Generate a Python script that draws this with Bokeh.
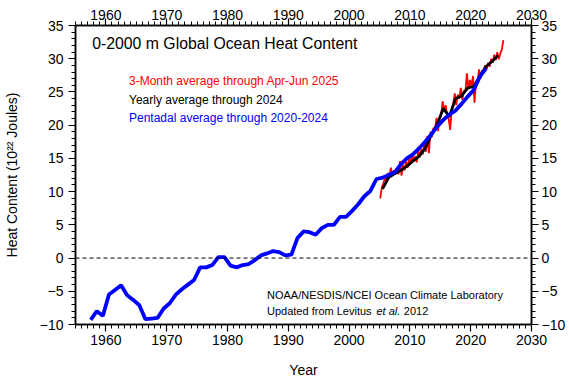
import numpy as np
from bokeh.plotting import figure
from bokeh.models import (Range1d, LinearAxis, SingleIntervalTicker, Span, Label)
from bokeh.embed import file_html
from bokeh.resources import INLINE

# ---------------- data ----------------
pentad_years = np.arange(1957.5, 2023.0, 1.0)
pentad_vals = [-9.3, -8.0, -8.7, -5.5, -4.8, -4.1, -5.6, -6.3, -7.1, -9.2,
               -9.1, -9.0, -7.6, -6.8, -5.5, -4.7, -4.0, -3.3, -1.4, -1.4,
               -1.05, 0.15, 0.15, -1.15, -1.4, -1.05, -0.9, -0.3, 0.4, 0.7,
               1.05, 0.9, 0.4, 0.5, 3.0, 4.0, 3.9, 3.5, 4.5, 5.0,
               5.0, 6.2, 6.2, 7.1, 8.1, 9.3, 10.1, 11.9, 12.1, 12.5,
               12.9, 14.1, 15.0, 15.6, 16.5, 17.5, 18.6, 19.8, 20.8, 21.6,
               22.2, 23.2, 24.3, 25.3, 27.3, 28.5]

yearly_years = np.arange(2005.5, 2025.0, 1.0)
yearly_vals = [10.4, 12.1, 12.7, 13.2, 13.8, 14.6, 15.3, 16.5, 18.5, 20.2,
               22.5, 21.3, 24.0, 24.4, 25.6, 25.8, 27.4, 28.8, 29.6, 30.5]

seasonal_years = np.arange(2005.125, 2025.5, 0.25)
seasonal_vals = [9.0, 10.6, 11.2, 12.0,
                 11.6, 12.8, 12.2, 13.6,
                 12.4, 13.2, 12.6, 13.4,
                 12.6, 14.6, 12.4, 14.0,
                 13.2, 14.5, 13.6, 15.0,
                 14.2, 15.6, 14.6, 15.3,
                 14.4, 16.2, 15.2, 16.4,
                 15.6, 17.2, 16.0, 18.3,
                 15.8, 19.0, 18.2, 19.6,
                 19.2, 21.1, 19.1, 21.0,
                 21.4, 23.6, 22.2, 23.0,
                 21.6, 21.0, 19.3, 22.4,
                 23.2, 24.8, 23.0, 24.6,
                 24.0, 25.6, 23.8, 25.2,
                 25.0, 27.8, 25.4, 26.8,
                 25.8, 27.4, 23.4, 26.6,
                 26.6, 28.4, 27.0, 28.2,
                 28.2, 29.0, 28.4, 29.4,
                 28.8, 30.0, 29.4, 30.6,
                 29.8, 31.0, 29.9, 30.8,
                 31.4, 32.8]
seasonal_years = seasonal_years[:len(seasonal_vals)]

title_text = "0-2000 m Global Ocean Heat Content"
legend_texts = ["3-Month average through Apr-Jun 2025",
                "Yearly average through 2024",
                "Pentadal average through 2020-2024"]
credit_line1 = "NOAA/NESDIS/NCEI Ocean Climate Laboratory"

FONT = "Liberation Sans"

p = figure(width=569, height=380, output_backend="svg", toolbar_location=None,
           x_range=Range1d(1955, 2030), y_range=Range1d(-10, 35),
           min_border_left=75, min_border_right=38, min_border_top=25,
           min_border_bottom=54)
p.xgrid.visible = False
p.ygrid.visible = False
p.outline_line_color = "black"
p.outline_line_width = 1.5
p.background_fill_color = "white"
p.border_fill_color = "white"

def style_axis(ax):
    ax.axis_line_color = "black"
    ax.axis_line_width = 1.5
    ax.major_tick_line_color = "black"
    ax.minor_tick_line_color = "black"
    ax.major_tick_line_width = 1.2
    ax.minor_tick_line_width = 1.0
    ax.major_tick_out = 7
    ax.major_tick_in = 0
    ax.minor_tick_out = 4
    ax.minor_tick_in = 0
    ax.major_label_text_font = FONT
    ax.major_label_text_font_size = "14px"
    ax.major_label_text_color = "black"
    ax.axis_label_text_font = FONT
    ax.axis_label_text_font_size = "14px"
    ax.axis_label_text_font_style = "normal"
    ax.axis_label_text_color = "black"

p.xaxis.ticker = SingleIntervalTicker(interval=10, num_minor_ticks=10)
p.yaxis.ticker = SingleIntervalTicker(interval=5, num_minor_ticks=5)
style_axis(p.xaxis[0])
style_axis(p.yaxis[0])
p.xaxis.axis_label = "Year"
p.xaxis.major_label_standoff = 3
p.xaxis.axis_label_standoff = 14
p.yaxis.axis_label = "Heat Content (10²² Joules)"
p.yaxis.major_label_standoff = 5
p.yaxis.axis_label_standoff = 17

top = LinearAxis(ticker=SingleIntervalTicker(interval=10, num_minor_ticks=10))
style_axis(top)
top.major_label_standoff = -1
p.add_layout(top, "above")

right = LinearAxis(ticker=SingleIntervalTicker(interval=5, num_minor_ticks=5))
style_axis(right)
right.major_label_standoff = 3
p.add_layout(right, "right")

p.add_layout(Span(location=0, dimension="width", line_color="black",
                  line_width=1, line_dash="4 3"))

p.line(seasonal_years, seasonal_vals, line_color="#ff0000", line_width=1.8)
p.line(yearly_years, yearly_vals, line_color="black", line_width=2.8)
p.line(pentad_years, pentad_vals, line_color="#0000ff", line_width=3.8)

p.add_layout(Label(x=1957.75, y=32.3, text=title_text, text_font=FONT,
                   text_font_size="15.8px", text_baseline="middle",
                   text_color="black"))
for txt, yy, col in zip(legend_texts, [26.7, 23.8, 21.05], ["#ff0000", "black", "#0000ff"]):
    p.add_layout(Label(x=1963.8, y=yy, text=txt, text_font=FONT,
                       text_font_size="12px", text_baseline="middle",
                       text_color=col))

p.add_layout(Label(x=1986.5, y=-5.55, text=credit_line1, text_font=FONT,
                   text_font_size="11px", text_baseline="middle", text_color="black"))
p.add_layout(Label(x=1986.5, y=-7.95, text="Updated from Levitus", text_font=FONT,
                   text_font_size="11px", text_baseline="middle", text_color="black"))
p.add_layout(Label(x=2004.5, y=-7.95, text="et al.", text_font=FONT,
                   text_font_size="11px", text_font_style="italic",
                   text_baseline="middle", text_color="black"))
p.add_layout(Label(x=2009.0, y=-7.95, text="2012", text_font=FONT,
                   text_font_size="11px", text_baseline="middle", text_color="black"))

open("out.html", "w").write(file_html(p, INLINE))
